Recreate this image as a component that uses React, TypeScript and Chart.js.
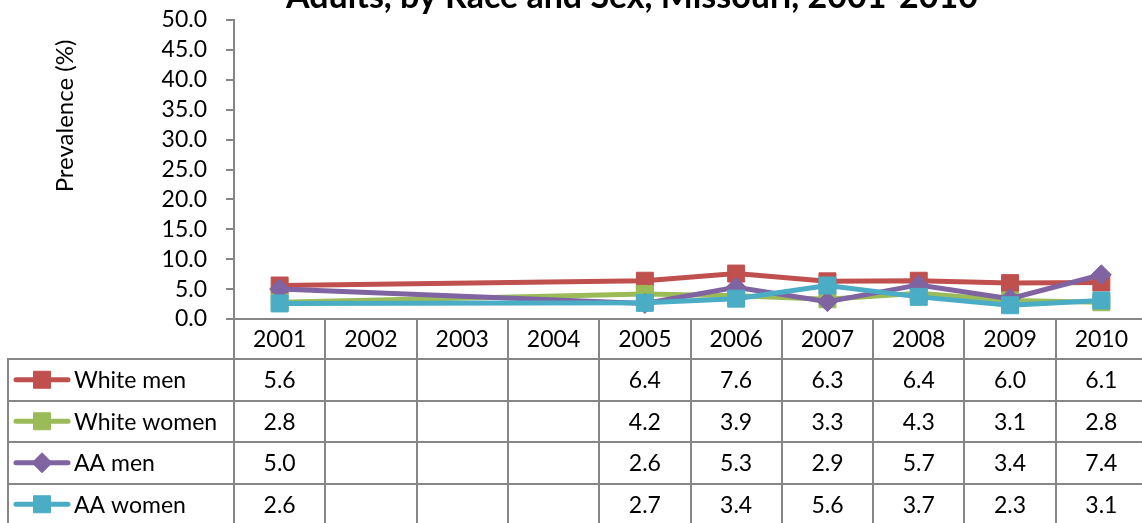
import React, { useEffect, useRef } from 'react';
import { Chart, registerables } from 'chart.js';

Chart.register(...registerables);

const years = ['2001', '2002', '2003', '2004', '2005', '2006', '2007', '2008', '2009', '2010'];
const whiteMen = [5.6, null, null, null, 6.4, 7.6, 6.3, 6.4, 6.0, 6.1];
const whiteWomen = [2.8, null, null, null, 4.2, 3.9, 3.3, 4.3, 3.1, 2.8];
const aaMen = [5.0, null, null, null, 2.6, 5.3, 2.9, 5.7, 3.4, 7.4];
const aaWomen = [2.6, null, null, null, 2.7, 3.4, 5.6, 3.7, 2.3, 3.1];
const seriesNames = ['White men', 'White women', 'AA men', 'AA women'];
const seriesValues = [whiteMen, whiteWomen, aaMen, aaWomen];
const seriesColors = ['#C0504D', '#9BBB59', '#8064A2', '#4BACC6'];
const seriesMarkers = ['rect', 'rect', 'rectRot', 'rect'];
const yMin = 0;
const yMax = 50;
const yStep = 5;
const titleText = 'Adults, by Race and Sex, Missouri, 2001-2010';
const yAxisTitle = 'Prevalence (%)';

const FONT = 'Lato, "Open Sans", sans-serif';
const GRAY = '#868686';
const TXT = 23;

function drawMarker(ctx: CanvasRenderingContext2D, style: string, x: number, y: number, color: string) {
  ctx.save();
  ctx.fillStyle = color;
  ctx.strokeStyle = color;
  ctx.lineWidth = 1;
  ctx.beginPath();
  if (style === 'rectRot') {
    const r = 10;
    ctx.moveTo(x, y - r);
    ctx.lineTo(x + r, y);
    ctx.lineTo(x, y + r);
    ctx.lineTo(x - r, y);
    ctx.closePath();
  } else {
    const s = 8.5;
    ctx.rect(x - s, y - s, 2 * s, 2 * s);
  }
  ctx.fill();
  ctx.stroke();
  ctx.restore();
}

const tablePlugin = {
  id: 'dataTable',
  afterDraw(chart: any) {
    const { ctx, chartArea, scales } = chart;
    const xs = scales.x;
    const L = chartArea.left;
    const R = chartArea.right;
    const B = chartArea.bottom;
    const H = chart.height;
    const tableLeft = 8;
    const headerH = 40;
    const rowH = 41.5;
    const rowsTop = B + headerH;
    const n = years.length;
    const colW = (R - L) / n;

    ctx.save();
    ctx.strokeStyle = GRAY;
    ctx.lineWidth = 2;
    const line = (x1: number, y1: number, x2: number, y2: number) => {
      ctx.beginPath();
      ctx.moveTo(x1, y1);
      ctx.lineTo(x2, y2);
      ctx.stroke();
    };
    line(L, B, R + 20, B);
    for (let i = 0; i < seriesNames.length + 1; i++) {
      const y = Math.round(rowsTop + i * rowH);
      line(tableLeft - 1, y, R + 20, y);
    }
    line(L, B, L, H);
    line(tableLeft, rowsTop - 1, tableLeft, H);
    for (let i = 1; i <= n; i++) {
      const x = Math.round(L + i * colW);
      line(x, B, x, H);
    }

    ctx.fillStyle = '#000';
    ctx.font = `${TXT}px ${FONT}`;
    ctx.textAlign = 'center';
    ctx.textBaseline = 'middle';
    years.forEach((yr, i) => {
      ctx.fillText(yr, xs.getPixelForValue(i), B + headerH / 2 + 1);
    });

    seriesNames.forEach((name, s) => {
      const cy = rowsTop + s * rowH + rowH / 2;
      ctx.save();
      ctx.strokeStyle = seriesColors[s];
      ctx.lineWidth = 5;
      ctx.lineCap = 'round';
      line(16, cy, 68, cy);
      ctx.restore();
      drawMarker(ctx, seriesMarkers[s], 42, cy, seriesColors[s]);
      ctx.fillStyle = '#000';
      ctx.textAlign = 'left';
      ctx.fillText(name, 74, cy + 1);
      ctx.textAlign = 'center';
      seriesValues[s].forEach((v, i) => {
        if (v === null || v === undefined) return;
        ctx.fillText((v as number).toFixed(1), xs.getPixelForValue(i), cy + 1);
      });
    });

    ctx.font = `bold 34px ${FONT}`;
    ctx.textAlign = 'center';
    ctx.textBaseline = 'alphabetic';
    ctx.fillText(titleText, 632, 8);

    ctx.save();
    ctx.translate(65, 116);
    ctx.rotate(-Math.PI / 2);
    ctx.font = `24px ${FONT}`;
    ctx.textAlign = 'center';
    ctx.textBaseline = 'middle';
    ctx.fillText(yAxisTitle, 0, 0);
    ctx.restore();

    ctx.restore();
  },
};

export default function App() {
  const ref = useRef<HTMLCanvasElement | null>(null);

  useEffect(() => {
    if (!ref.current) return;
    const chart = new Chart(ref.current, {
      type: 'line',
      data: {
        labels: years,
        datasets: seriesNames.map((name, s) => ({
          label: name,
          data: seriesValues[s],
          borderColor: seriesColors[s],
          backgroundColor: seriesColors[s],
          borderWidth: 5,
          pointStyle: seriesMarkers[s] as any,
          pointRadius: seriesMarkers[s] === 'rectRot' ? 10 : 12,
          pointBorderWidth: 1,
          pointBackgroundColor: seriesColors[s],
          pointBorderColor: seriesColors[s],
          spanGaps: true,
          tension: 0,
          order: seriesNames.length - s,
        })),
      },
      options: {
        animation: false,
        responsive: false,
        maintainAspectRatio: false,
        layout: { padding: { top: 20, left: 0, right: 10, bottom: 0 } },
        plugins: {
          legend: { display: false },
          title: { display: false },
          tooltip: { enabled: false },
        },
        scales: {
          x: {
            type: 'category',
            offset: true,
            grid: { display: false },
            border: { display: false },
            ticks: { display: false },
            afterFit: (s: any) => {
              s.height = 204;
              s.paddingLeft = 0;
              s.paddingRight = 0;
            },
          },
          y: {
            min: yMin,
            max: yMax,
            ticks: {
              stepSize: yStep,
              autoSkip: false,
              padding: 19,
              color: '#000',
              font: { family: FONT, size: TXT },
              callback: (v: any) => Number(v).toFixed(1),
            },
            grid: {
              display: true,
              drawOnChartArea: false,
              drawTicks: true,
              tickLength: 8,
              color: GRAY,
              lineWidth: 2,
            },
            border: { display: true, color: GRAY, width: 2 },
            afterFit: (s: any) => {
              s.width = 234;
              s.paddingTop = 0;
              s.paddingBottom = 0;
            },
          },
        },
      },
      plugins: [tablePlugin],
    });
    return () => chart.destroy();
  }, []);

  return (
    <div style={{ position: 'fixed', left: 0, top: 0, width: 1142, height: 523, overflow: 'hidden', background: '#fff' }}>
      <canvas ref={ref} width={1160} height={523} style={{ display: 'block', width: 1160, height: 523 }} />
    </div>
  );
}
